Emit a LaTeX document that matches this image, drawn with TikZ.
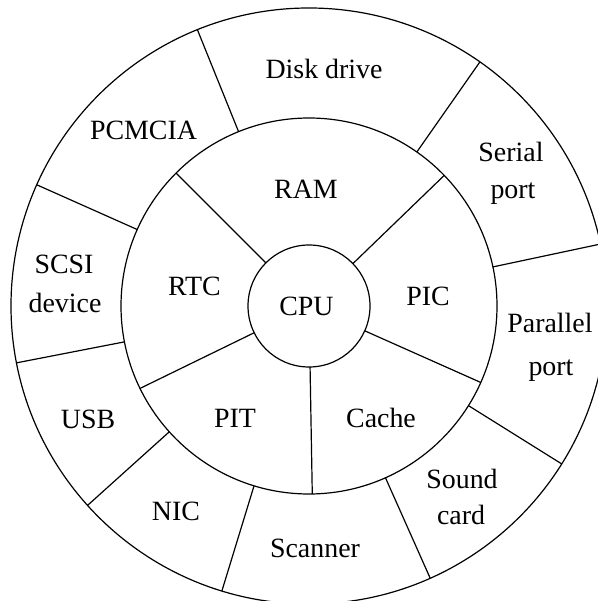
\documentclass[tikz,border=0pt]{standalone}
\usepackage{fontspec}
\setmainfont{Liberation Serif}
\begin{document}
\begin{tikzpicture}[x=1bp,y=-1bp,line width=1.2bp,
  ring/.style={circle,draw,inner sep=0pt,outer sep=0pt},
  lbl/.style={anchor=base,inner sep=0pt,font=\fontsize{28}{30}\selectfont}]
\useasboundingbox (0,0) rectangle (598,601);
\clip (0,0) rectangle (598,601);
\coordinate (c) at (309,306);
\node[ring,minimum size=596bp] (outer) at (c) {};
\node[ring,minimum size=376bp] (mid) at (c) {};
\node[ring,minimum size=122bp] (cpu) at (c) {};
\foreach \a in {135,44,-24,-89,206} \draw (cpu.\a) -- (mid.\a);
\foreach \a in {112,156,191,222,253,294,328,12,55} \draw (mid.\a) -- (outer.\a);
% inner ring
\node[lbl] (cpulbl) at (306.5,315) {CPU};
\node[lbl] (ram) at (306,198) {RAM};
\node[lbl] (rtc) at (194.5,295) {RTC};
\node[lbl] (pic) at (428,305) {PIC};
\node[lbl] (pit) at (235,427) {PIT};
\node[lbl] (cache) at (381,427) {Cache};
% outer ring
\node[lbl] (disk) at (324,79) {Disk drive};
\node[lbl] (serial1) at (511,162) {Serial};
\node[lbl] (serial2) at (513,198) {port};
\node[lbl] (par1) at (550,332) {Parallel};
\node[lbl] (par2) at (551,375) {port};
\node[lbl] (sound1) at (462,488) {Sound};
\node[lbl] (sound2) at (461,524) {card};
\node[lbl] (scanner) at (315,557) {Scanner};
\node[lbl] (nic) at (176,520) {NIC};
\node[lbl] (usb) at (88,428) {USB};
\node[lbl] (scsi1) at (64,273) {SCSI};
\node[lbl] (scsi2) at (65,312) {device};
\node[lbl] (pcmcia) at (143.5,140) {PCMCIA};
\end{tikzpicture}
\end{document}
